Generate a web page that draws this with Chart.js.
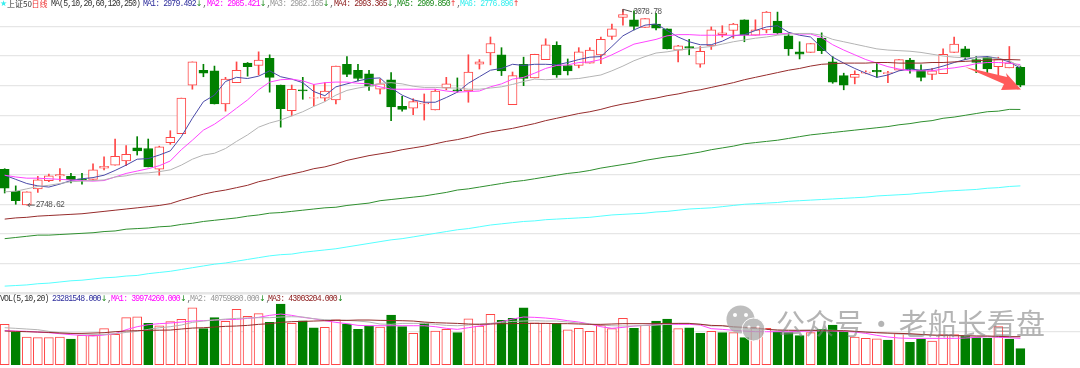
<!DOCTYPE html>
<html><head><meta charset="utf-8">
<style>
html,body{margin:0;padding:0;background:#fff;width:1080px;height:368px;overflow:hidden}
canvas{position:absolute;left:0;filter:blur(.35px)}
#c1{top:0}#c2{top:296px}
.t{position:absolute;font:8.2px "Liberation Mono","DejaVu Sans Mono",monospace;letter-spacing:-.86px;white-space:pre;line-height:10px;filter:blur(.25px)}
.cn{font-family:"Noto Sans CJK SC",sans-serif;letter-spacing:0;font-size:8px}
.a{font-family:"DejaVu Sans",sans-serif;letter-spacing:0;font-size:8px}
#wm{position:absolute;left:776px;top:302px;font:400 29px "Noto Sans CJK SC",sans-serif;color:rgba(130,130,130,.6);white-space:pre;line-height:40px;letter-spacing:.3px;word-spacing:-4px}
svg{position:absolute;left:0;top:0}
</style>
<script src="https://cdn.jsdelivr.net/npm/chart.js@4/dist/chart.umd.min.js"></script>
</head><body>
<canvas id="c1" width="1080" height="296"></canvas>
<canvas id="c2" width="1080" height="72"></canvas>
<div class="t a" style="left:0px;top:-1px;color:#3ee;">★</div>
<div class="t cn" style="left:7px;top:-1px;color:#333">上证50</div>
<div class="t cn" style="left:31.5px;top:-1px;color:#e33">日线</div>
<div class="t" style="left:51px;top:-1px;color:#333">MA(5,10,20,60,120,250)</div>
<div class="t" style="left:143px;top:-1px;color:#2d2d9c">MA1: 2979.492<span class="a" style="color:#1a8a1a">↓</span><span style="color:#666">,</span></div>
<div class="t" style="left:207px;top:-1px;color:#f0f">MA2: 2985.421<span class="a" style="color:#1a8a1a">↓</span><span style="color:#666">,</span></div>
<div class="t" style="left:270px;top:-1px;color:#999">MA3: 2982.165<span class="a" style="color:#1a8a1a">↓</span><span style="color:#666">,</span></div>
<div class="t" style="left:334px;top:-1px;color:#8b1a1a">MA4: 2993.365<span class="a" style="color:#1a8a1a">↓</span><span style="color:#666">,</span></div>
<div class="t" style="left:397px;top:-1px;color:#1a8a1a">MA5: 2909.850<span class="a" style="color:#e33">↑</span><span style="color:#666">,</span></div>
<div class="t" style="left:460px;top:-1px;color:#3ee">MA6: 2776.896<span class="a" style="color:#e33">↑</span></div>
<div class="t" style="left:0;top:294px;color:#333">VOL(5,10,20)</div>
<div class="t" style="left:52px;top:294px;color:#2d2d9c">23281548.000<span class="a" style="color:#1a8a1a">↓</span><span style="color:#666">,</span></div>
<div class="t" style="left:111px;top:294px;color:#f0f">MA1: 39974260.000<span class="a" style="color:#1a8a1a">↓</span><span style="color:#666">,</span></div>
<div class="t" style="left:190px;top:294px;color:#999">MA2: 40759880.000<span class="a" style="color:#1a8a1a">↓</span><span style="color:#666">,</span></div>
<div class="t" style="left:268px;top:294px;color:#8b1a1a">MA3: 43003204.000<span class="a" style="color:#1a8a1a">↓</span></div>
<svg width="1080" height="368">
<polygon points="965,67 1007,77 1006,73 1021,89.5 1001,90 1004,84" fill="#ff5a5a"/>
<g opacity=".75"><circle cx="740.5" cy="319.5" r="14" fill="#a8a8a8"/><circle cx="753.5" cy="329.5" r="11.5" fill="#a8a8a8" stroke="#fff" stroke-width="1"/>
<circle cx="735" cy="315" r="2" fill="#fff"/><circle cx="746" cy="315" r="2" fill="#fff"/><circle cx="749" cy="327" r="1.6" fill="#fff"/><circle cx="758" cy="327" r="1.6" fill="#fff"/></g>
</svg>
<div id="wm">公众号 · 老船长看盘</div>
<script>
const opens=[2809,2772,2749,2776,2790,2798,2797,2793,2792,2811,2816,2823,2845,2844,2809,2854,2869,2951,2976,2975,2919,2955,2988,2984,2996,2951,2908,2943,2929,2929,2926,2986,2976,2970,2944,2960,2915,2912,2919,2909,2946,2943,2941,2986,3005,3002,2918,2986,2963,2994,3018,2984,2984,2988,3002,3033,3065,3061,3048,3054,3046,3010,3016,2986,3017,3036,3043,3061,3035,3044,3059,3034,3007,3006,3030,2990,2967,2964,2971,2976,2970,2976,2993,2976,2969,2970,3006,3012,2994,2998,2982,2980,2981];
const highs=[2810,2781,2771,2797,2801,2810,2802,2802,2818,2830,2860,2849,2864,2860,2848,2874,2929,2990,2986,2983,2964,2990,2989,3007,3002,2951,2951,2964,2952,2955,2983,2999,2986,2976,2961,2972,2932,2928,2936,2944,2964,2963,3002,2994,3032,3014,2973,2998,3003,3029,3024,2995,3014,3014,3032,3054,3078.78,3076,3063,3072,3046,3018,3028,3016,3049,3051,3055,3061,3061,3075,3074,3039,3024,3021,3039,2999,2971,2975,2975,2989,2974,2994,2996,2985,2979,3012,3032,3016,2999,2999,2998,3016,2983];
const lows=[2769,2750,2748.62,2770,2788,2789,2786,2784,2792,2808,2816,2815,2833,2813,2799,2851,2869,2944,2965,2919,2907,2955,2966,2968,2939,2880,2899,2927,2916,2924,2919,2965,2958,2942,2936,2891,2907,2901,2892,2909,2943,2939,2922,2978,2985,2967,2918,2950,2963,2994,2964,2968,2980,2988,2987,3028,3052,3044,3048,3044,3012,2990,3002,2981,3011,3032,3030,3024,3035,3039,3037,3001,2995,3006,3004,2954,2943,2953,2970,2964,2955,2976,2971,2958,2960,2970,3006,2994,2972,2968,2965,2980,2948];
const closes=[2777,2756,2771,2791,2798,2800,2791,2791,2808,2814,2831,2834,2840,2813,2847,2863,2929,2990,2971,2919,2961,2976,2982,2993,2964,2911,2944,2941,2930,2941,2983,2969,2962,2949,2953,2914,2910,2923,2920,2941,2953,2941,2973,2990,3021,2975,2967,2962,3003,3019,2968,2975,3007,3010,3028,3046,3070,3050,3063,3047,3012,3017,3013,3008,3044,3039,3054,3035,3044,3074,3039,3012,3003,3021,3009,2956,2951,2969,2973,2973,2972,2994,2978,2964,2975,3003,3020,2998,2989,2978,2994,2988,2951];
const ma5d=[2799,2792,2785,2781,2779,2784,2790,2793,2795,2799,2807,2816,2826,2827,2833,2840,2864,2895,2923,2934,2957,2964,2962,2966,2975,2965,2961,2955,2940,2933,2948,2953,2958,2962,2963,2946,2934,2926,2922,2922,2930,2939,2954,2965,2976,2979,2986,2984,2986,2986,2985,2989,2994,2998,2999,3016,3034,3044,3052,3054,3043,3032,3024,3019,3019,3025,3034,3036,3043,3049,3051,3040,3035,3032,3014,2998,2988,2979,2971,2964,2968,2975,2978,2976,2978,2983,2989,2994,2998,2999,2996,2990,2979.49];
const ma10d=[2799,2796,2794,2794,2793,2792,2791,2790,2789,2790,2796,2802,2806,2810,2815,2823,2842,2858,2875,2885,2898,2912,2926,2943,2956,2960,2961,2958,2952,2955,2956,2956,2954,2953,2948,2944,2944,2944,2944,2944,2941,2939,2940,2941,2948,2953,2961,2964,2971,2979,2984,2985,2989,2990,2994,3002,3011,3020,3024,3028,3034,3036,3036,3035,3035,3035,3035,3035,3035,3036,3037,3038,3037,3037,3031,3019,3010,3002,2994,2988,2982,2978,2975,2975,2975,2978,2980,2983,2987,2989,2989,2988,2985.42];
const ma20d=[2771,2772,2776,2780,2782,2785,2788,2789,2790,2791,2796,2798,2802,2803,2805,2808,2816,2826,2833,2836,2844,2856,2867,2880,2887,2892,2899,2906,2915,2923,2934,2942,2946,2949,2954,2955,2953,2949,2947,2947,2946,2946,2944,2944,2946,2948,2952,2957,2961,2960,2961,2961,2962,2965,2968,2975,2983,2992,2999,3005,3007,3010,3012,3014,3016,3020,3024,3027,3030,3032,3035,3037,3038,3038,3035,3028,3024,3020,3016,3012,3010,3009,3008,3006,3003,3000,2998,2997,2997,2997,2996,2992,2982.17];
const ma60d=[2725,2727,2728,2730,2731,2732,2733,2734,2736,2738,2740,2742,2744,2746,2748,2751,2757,2762,2767,2771,2774,2778,2782,2788,2792,2797,2801,2805,2810,2813,2818,2824,2828,2832,2835,2838,2842,2845,2848,2852,2856,2859,2863,2868,2872,2875,2878,2882,2886,2891,2895,2899,2903,2906,2910,2915,2919,2922,2926,2929,2933,2936,2940,2943,2947,2951,2955,2960,2964,2968,2972,2976,2979,2983,2986,2987,2988,2988,2988,2989,2989,2988,2988,2988,2989,2989,2990,2991,2992,2993,2994,2994,2993.37];
const ma120d=[2692,2694,2696,2698,2698,2699,2700,2701,2702,2704,2705,2708,2709,2710,2712,2713,2716,2718,2721,2723,2725,2727,2730,2732,2735,2736,2738,2740,2742,2744,2745,2748,2750,2752,2756,2758,2760,2762,2764,2767,2770,2774,2776,2779,2782,2785,2788,2790,2793,2796,2799,2802,2804,2807,2811,2814,2817,2820,2824,2827,2830,2832,2835,2838,2842,2845,2848,2852,2854,2856,2858,2861,2864,2867,2869,2871,2873,2875,2877,2879,2881,2884,2886,2889,2891,2895,2897,2900,2903,2906,2907,2910,2909.85];
const ma250d=[2612,2613,2614,2616,2617,2619,2621,2622,2624,2626,2627,2629,2630,2633,2635,2637,2640,2643,2646,2649,2651,2654,2657,2660,2663,2665,2666,2669,2671,2673,2675,2678,2681,2684,2687,2690,2692,2695,2698,2701,2704,2707,2709,2712,2715,2717,2719,2721,2722,2724,2725,2726,2727,2728,2730,2732,2733,2734,2735,2737,2738,2740,2742,2743,2744,2746,2748,2750,2751,2752,2753,2755,2756,2757,2758,2759,2760,2761,2762,2764,2765,2766,2767,2769,2770,2772,2773,2774,2775,2777,2778,2780,2781];
// volume, millions of shares
const volume=[58.7,48,40.3,39.3,39.3,40.3,37.3,42.7,42.7,52.4,44.1,68.4,69.8,60.1,56.7,62.6,66,82.9,52.4,68.4,63.1,80.5,70.3,74.2,61.6,88.3,60.1,64,53.8,54.3,65.5,59.2,51.4,56.3,54.8,72.3,55.3,45.6,61.1,49,51.4,46.6,66.9,56.3,73.2,64.5,67.4,82.9,61.1,60.6,60.1,50.9,52.9,48.5,57.2,52.4,67.4,52.9,57.2,63.5,66.4,52.4,53.8,45.6,48.5,46.6,46.6,39.3,54.3,52.9,48,46.6,42.2,46.6,51.4,57.7,49,40.3,38.3,37.8,35.9,45.6,32.5,36.9,34.4,43.7,43.7,42.2,39.3,38.3,55.3,37.3,23.28];
const volUp=[1,0,1,1,1,1,0,1,1,1,1,1,1,0,1,1,1,1,0,0,1,1,1,1,0,0,1,0,0,1,1,0,0,0,1,0,0,1,0,1,1,0,1,1,1,0,0,0,1,1,0,1,1,1,1,1,1,0,1,0,0,1,0,0,1,0,1,0,1,1,0,0,0,1,0,0,0,1,1,1,0,1,0,0,1,1,1,0,0,0,1,0,0];
const volMa5=[49.5,49,48.5,47.5,46.6,45.1,43.7,42.7,41.7,43.2,45.1,50.9,55.3,58.2,59.7,60.6,62.1,63.5,64,65,65.5,66,67.4,68.9,71.8,73.7,71.8,68.9,66.9,64,61.6,59.7,57.2,56.7,56.7,56.7,56.7,56.7,56.7,55.3,52.9,51.4,53.8,56.3,59.2,62.6,66.4,69.4,68.9,67.9,66.4,64,62.1,59.2,55.3,52.9,54.3,56.3,57.2,58.2,58.7,58.7,58.7,57.7,52.4,51.4,50,49,48,48,48,48,48.5,49,49.5,49,48.5,47.5,45.6,42.7,40.3,38.8,38.3,38.3,38.3,38.3,38.3,38.8,39.8,40.7,39.8,39.3,38.3];
const volMa10=[53.8,52.9,51.9,50.9,48.5,46.6,45.6,44.6,44.1,44.1,45.1,47,48.5,51.4,53.8,55.3,57.7,61.6,63.5,65,66.4,67.4,67.9,68.4,68.4,69.4,69.8,69.4,66.9,65.5,65,64.5,63.5,62.1,59.2,58.7,60.1,60.1,60.1,58.7,57.2,56.7,57.7,59.2,60.1,61.6,63,63.5,64,63.5,63.5,62.1,60.6,59.2,57.7,56.7,56.3,56.3,57.2,57.7,58.7,60.1,60.1,59.2,56.3,56.7,54.3,53.3,52.4,51.4,50.4,49.5,50,50.4,50.4,50,49.5,48.5,47.5,46.6,45.6,44.6,44.1,43.7,42.7,42.2,42.2,42,41.7,41.5,41.2,41,40.76];
const volMa20=[49,48.5,48,47.5,47,46.1,45.6,45.6,46.1,46.6,48,49,49.5,50,50.2,50.4,51.9,53.3,53.8,54.8,55.8,56.3,57.2,58.7,59.7,61.6,62.6,63,63.5,64,64.5,64.5,65,65,64.5,64.3,64,63.5,62.1,61.1,60.6,60.1,59.2,58.7,59.2,59.7,59.7,60.1,60.1,60.1,59.7,59.7,59.2,58.7,58.7,59.2,59.7,59.7,59.7,59.7,60.1,60.1,60.1,58.7,57.2,56.7,55.3,54.3,53.3,51.4,50.4,50.2,50,50,49.7,49.5,49.5,48.5,47.5,46.6,46.1,45.6,45.1,44.1,43.2,42.7,42.2,42.2,41.7,41.7,41.2,40.7,40.7];
const priceGrid=[3050,3000,2950,2900,2850,2800,2750,2700,2650,2600];
const volGrid=[48];
const RED='#ff4646',GREEN='#008000',GREY='#e6e6e6';

const xScale={type:'linear',display:false,offset:false,bounds:'data',min:-4.7/11.04,max:1075.3/11.04};
const idx=a=>a.map((v,i)=>({x:i,y:v}));
const line=(d,c)=>({type:'line',data:idx(d),borderColor:c,borderWidth:1,pointRadius:0,tension:0,fill:false,order:1,yAxisID:'y'});
const ys=(min,max,g)=>({min,max,bounds:'data',display:true,border:{display:false},
  afterBuildTicks:s=>{s.ticks=g.map(v=>({value:v}))},
  ticks:{display:false},grid:{color:GREY,lineWidth:c=>c.tick&&c.tick.value===2600?2.5:1.3,drawTicks:false}});

const notes={id:'notes',afterDatasetsDraw(c){
  const {x,y}=c.scales,g=c.ctx;g.save();g.font='8.2px "Liberation Mono",monospace';g.letterSpacing='-.86px';g.fillStyle='#555';g.strokeStyle='#555';g.textBaseline='middle';g.lineWidth=1;
  const hx=x.getPixelForValue(56),hy=y.getPixelForValue(3078.78);
  g.beginPath();g.moveTo(hx,hy);g.lineTo(hx+9,hy+2.5);g.moveTo(hx,hy);g.lineTo(hx,hy+3);g.stroke();g.fillText('3078.78',hx+10,hy+2.8);
  const lx=x.getPixelForValue(2),ly=y.getPixelForValue(2748.62);
  g.beginPath();g.moveTo(lx+1,ly);g.lineTo(lx+8,ly);g.moveTo(lx+1,ly);g.lineTo(lx+3,ly-2);g.moveTo(lx+1,ly);g.lineTo(lx+3,ly+2);g.stroke();g.fillText('2748.62',lx+9,ly);
  g.restore();}};

new Chart(document.getElementById('c1'),{type:'bar',plugins:[notes],
  data:{datasets:[
    {data:highs.map((h,i)=>({x:i,y:[lows[i],h]})),backgroundColor:closes.map((c,i)=>c>=opens[i]?RED:GREEN),barThickness:1,grouped:false,order:3},
    {data:opens.map((o,i)=>({x:i,y:[o,closes[i]]})),backgroundColor:closes.map((c,i)=>c>=opens[i]?'#fff':GREEN),borderColor:closes.map((c,i)=>c>=opens[i]?RED:GREEN),borderWidth:1,borderSkipped:false,barThickness:9,grouped:false,order:2},
    line(ma250d,'#55ffff'),line(ma120d,'#2f8f2f'),line(ma60d,'#962c2c'),line(ma20d,'#b4b4b4'),line(ma10d,'#ff45ff'),line(ma5d,'#4a4aa8')
  ]},
  options:{responsive:false,animation:false,devicePixelRatio:1,layout:{padding:0},events:[],
    plugins:{legend:{display:false},tooltip:{enabled:false}},
    scales:{x:xScale,y:ys(3094.4-1.686*296,3094.4,priceGrid)}}});

new Chart(document.getElementById('c2'),{type:'bar',
  data:{datasets:[
    {data:volume.map((v,i)=>({x:i,y:[0,v]})),backgroundColor:volUp.map(u=>u?'#fff':GREEN),borderColor:volUp.map(u=>u?RED:GREEN),borderWidth:1,borderSkipped:false,barThickness:9,grouped:false,order:2},
    line(volMa20,'#962c2c'),line(volMa10,'#b4b4b4'),line(volMa5,'#ff45ff')
  ]},
  options:{responsive:false,animation:false,devicePixelRatio:1,layout:{padding:0},events:[],
    plugins:{legend:{display:false},tooltip:{enabled:false}},
    scales:{x:xScale,y:ys(-(296+72-364.7)*1.455,(364.7-296)*1.455,volGrid)}}});
</script>
</body></html>
